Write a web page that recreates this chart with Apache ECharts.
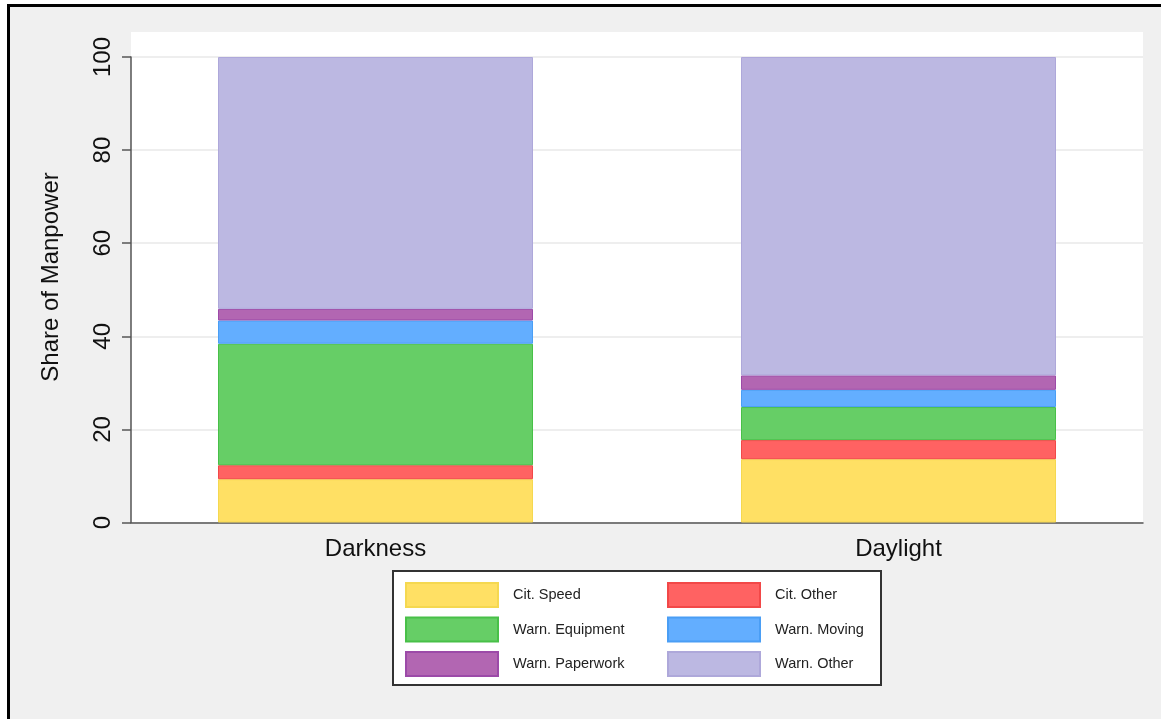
<!DOCTYPE html>
<html>
<head>
<meta charset="utf-8">
<script src="https://cdn.jsdelivr.net/npm/echarts@6/dist/echarts.min.js"></script>
<style>
html,body{margin:0;padding:0;background:#fff;overflow:hidden;}
#frame{position:absolute;left:7px;top:4px;width:1200px;height:760px;background:#f0f0f0;border-left:3px solid #000;border-top:3px solid #000;box-sizing:border-box;}
#main{position:absolute;left:0;top:0;width:1161px;height:719px;}
</style>
</head>
<body>
<div id="frame"></div>
<div id="main"></div>
<script>
var categories = ['Darkness', 'Daylight'];
var seriesNames = ['Cit. Speed', 'Cit. Other', 'Warn. Equipment', 'Warn. Moving', 'Warn. Paperwork', 'Warn. Other'];
var citSpeed = [9.3, 13.6];
var citOther = [3.0, 4.1];
var warnEquipment = [26.1, 7.1];
var warnMoving = [5.0, 3.7];
var warnPaperwork = [2.5, 3.1];
var warnOther = [54.1, 68.4];
var yTicks = [0, 20, 40, 60, 80, 100];

var values = [citSpeed, citOther, warnEquipment, warnMoving, warnPaperwork, warnOther];
var fills = ['#FFE064', '#FF6262', '#66CE66', '#63AEFF', '#B266B2', '#BCB8E2'];
var borders = ['#F5D850', '#F24848', '#48C048', '#4A9EF5', '#9C4AA8', '#AEA8DA'];

var chart = echarts.init(document.getElementById('main'), null, {renderer: 'canvas'});
var font = '"Liberation Sans", Arial, sans-serif';

var series = seriesNames.map(function (n, i) {
  return {
    name: n, type: 'bar', stack: 'total', xAxisIndex: 2, yAxisIndex: 2,
    barWidth: 315, data: values[i],
    itemStyle: {color: fills[i], borderColor: borders[i], borderWidth: 1},
    emphasis: {disabled: true}
  };
});

var legendBase = {
  orient: 'vertical', top: 582, padding: 0,
  itemWidth: 92, itemHeight: 24, itemGap: 8.5, icon: 'rect', selectedMode: false, z: 5,
  textStyle: {fontSize: 14.5, color: '#222', padding: [0, 0, 0, 10], fontFamily: font}
};

chart.setOption({
  backgroundColor: 'transparent',
  animation: false,
  textStyle: {fontFamily: font},
  graphic: [{
    type: 'rect', z: 1,
    shape: {x: 393, y: 571, width: 488, height: 114},
    style: {fill: '#fff', stroke: '#333', lineWidth: 2}
  }],
  grid: [
    {left: 131, right: 18, top: 32, bottom: 197, show: true, backgroundColor: '#fff', borderWidth: 0},
    {left: 131, right: 18, top: 57, bottom: 196.5},
    {left: 114, right: 1, top: 57, bottom: 196.5}
  ],
  xAxis: [
    {gridIndex: 0, type: 'value', show: false},
    {gridIndex: 1, type: 'value', min: 0, max: 1,
      axisLine: {show: true, lineStyle: {color: '#555', width: 1.5}},
      axisTick: {show: false}, axisLabel: {show: false}, splitLine: {show: false}},
    {gridIndex: 2, type: 'category', data: categories,
      axisLine: {show: false}, axisTick: {show: false},
      axisLabel: {fontSize: 24, color: '#111', margin: 15, fontFamily: font}}
  ],
  yAxis: [
    {gridIndex: 0, type: 'value', show: true,
      name: 'Share of Manpower', nameLocation: 'middle', nameGap: 68,
      nameTextStyle: {fontSize: 24, color: '#111', fontFamily: font},
      axisLine: {show: false}, axisTick: {show: false}, axisLabel: {show: false}, splitLine: {show: false}},
    {gridIndex: 1, type: 'value', min: 0, max: 100, interval: 20,
      axisLine: {show: true, lineStyle: {color: '#555', width: 1.5}},
      axisTick: {show: true, length: 9, lineStyle: {color: '#555', width: 1.5}},
      axisLabel: {rotate: 90, fontSize: 24, color: '#111', margin: 16, fontFamily: font,
        formatter: function (v) { return yTicks.indexOf(v) >= 0 ? String(v) : ''; }},
      splitLine: {show: true, lineStyle: {color: '#e9e9e9', width: 1.5}}},
    {gridIndex: 2, type: 'value', min: 0, max: 100, show: false}
  ],
  legend: [
    Object.assign({data: [seriesNames[0], seriesNames[2], seriesNames[4]], left: 405}, legendBase),
    Object.assign({data: [seriesNames[1], seriesNames[3], seriesNames[5]], left: 667}, legendBase)
  ],
  series: series
});
</script>
</body>
</html>
